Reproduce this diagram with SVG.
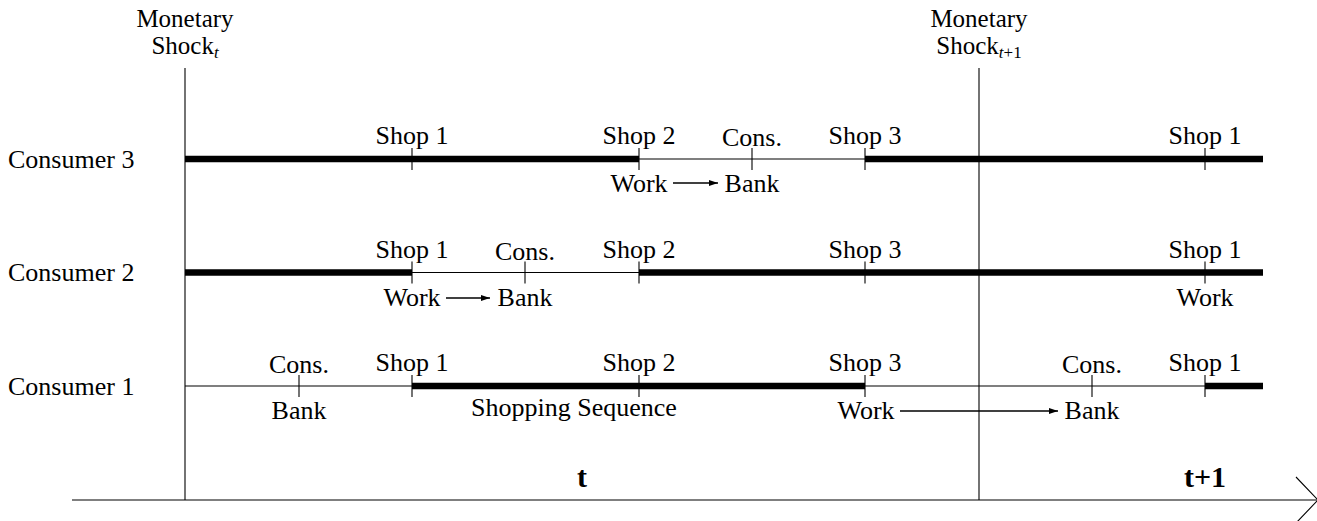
<svg xmlns="http://www.w3.org/2000/svg" width="1317" height="521" viewBox="0 0 1317 521" font-family="'Liberation Serif', 'DejaVu Serif', serif">
<style>
text{font-family:'Liberation Serif','DejaVu Serif',serif;font-size:26px;fill:#000}
.m{text-anchor:middle}
.hd{font-size:25px}
.b{font-weight:bold;font-size:30px;text-anchor:middle}
.sub{font-size:17px}
.it{font-style:italic}
.thin{stroke:#000;stroke-width:1.1;fill:none}
.thick{stroke:#000;stroke-width:6.5;fill:none}
.tick{stroke:#000;stroke-width:1.1}
.arr{stroke:#000;stroke-width:1.6;fill:none;marker-end:url(#ah)}
</style>
<defs>
<marker id="ah" markerUnits="userSpaceOnUse" markerWidth="10" markerHeight="8" refX="9" refY="3" orient="auto">
<path d="M0,0 L9,3 L0,6 Z" fill="#000"/>
</marker>
</defs>
<rect width="1317" height="521" fill="#fff"/>

<g id="axis">
<line class="thin" x1="72" y1="500" x2="1317" y2="500"/>
<polyline class="thin" points="1296,477 1318,500 1296,523"/>
<line class="thin" x1="185" y1="68" x2="185" y2="500"/>
<line class="thin" x1="979" y1="68" x2="979" y2="500"/>
<text class="m hd" x="185" y="27">Monetary</text>
<text class="m hd" x="185" y="54">Shock<tspan class="sub it" dy="4">t</tspan></text>
<text class="m hd" x="979" y="27">Monetary</text>
<text class="m hd" x="979" y="54">Shock<tspan class="sub" dy="4"><tspan class="it">t</tspan>+1</tspan></text>
<text class="b" x="582" y="487">t</text>
<text class="b" x="1205" y="487">t+1</text>
</g>

<g id="consumer3">
<text x="8" y="168">Consumer 3</text>
<line class="thick" x1="185" y1="159" x2="639" y2="159"/>
<line class="thin" x1="639" y1="159" x2="865" y2="159"/>
<line class="thick" x1="865" y1="159" x2="1263" y2="159"/>
<line class="tick" x1="412" y1="148" x2="412" y2="170"/>
<line class="tick" x1="639" y1="148" x2="639" y2="170"/>
<line class="tick" x1="752" y1="148" x2="752" y2="170"/>
<line class="tick" x1="865" y1="148" x2="865" y2="170"/>
<line class="tick" x1="1205" y1="148" x2="1205" y2="170"/>
<text class="m" x="412" y="144">Shop 1</text>
<text class="m" x="639" y="144">Shop 2</text>
<text class="m" x="752" y="146">Cons.</text>
<text class="m" x="865" y="144">Shop 3</text>
<text class="m" x="1205" y="144">Shop 1</text>
<text class="m" x="639" y="192">Work</text>
<text class="m" x="752" y="192">Bank</text>
</g>

<g id="consumer2">
<text x="8" y="281">Consumer 2</text>
<line class="thick" x1="185" y1="272.5" x2="412" y2="272.5"/>
<line class="thin" x1="412" y1="272.5" x2="639" y2="272.5"/>
<line class="thick" x1="639" y1="272.5" x2="1263" y2="272.5"/>
<line class="tick" x1="412" y1="261.5" x2="412" y2="283.5"/>
<line class="tick" x1="525" y1="261.5" x2="525" y2="283.5"/>
<line class="tick" x1="639" y1="261.5" x2="639" y2="283.5"/>
<line class="tick" x1="865" y1="261.5" x2="865" y2="283.5"/>
<line class="tick" x1="1205" y1="261.5" x2="1205" y2="283.5"/>
<text class="m" x="412" y="257.5">Shop 1</text>
<text class="m" x="525" y="259.5">Cons.</text>
<text class="m" x="639" y="257.5">Shop 2</text>
<text class="m" x="865" y="257.5">Shop 3</text>
<text class="m" x="1205" y="257.5">Shop 1</text>
<text class="m" x="412" y="305.5">Work</text>
<text class="m" x="525" y="305.5">Bank</text>
<text class="m" x="1205" y="305.5">Work</text>
</g>

<g id="consumer1">
<text x="8" y="395">Consumer 1</text>
<line class="thin" x1="185" y1="386" x2="1263" y2="386"/>
<line class="thick" x1="412" y1="386" x2="865" y2="386"/>
<line class="thick" x1="1205" y1="386" x2="1263" y2="386"/>
<line class="tick" x1="299" y1="375" x2="299" y2="397"/>
<line class="tick" x1="412" y1="375" x2="412" y2="397"/>
<line class="tick" x1="639" y1="375" x2="639" y2="397"/>
<line class="tick" x1="865" y1="375" x2="865" y2="397"/>
<line class="tick" x1="1092" y1="375" x2="1092" y2="397"/>
<line class="tick" x1="1205" y1="375" x2="1205" y2="397"/>
<text class="m" x="299" y="373">Cons.</text>
<text class="m" x="412" y="371">Shop 1</text>
<text class="m" x="639" y="371">Shop 2</text>
<text class="m" x="865" y="371">Shop 3</text>
<text class="m" x="1092" y="373">Cons.</text>
<text class="m" x="1205" y="371">Shop 1</text>
<text class="m" x="299" y="419">Bank</text>
<text class="m" x="574" y="416">Shopping Sequence</text>
<text class="m" x="866" y="419">Work</text>
<text class="m" x="1092" y="419">Bank</text>
</g>

<g id="connectors">
<line class="arr" x1="673" y1="183" x2="718" y2="183"/>
<line class="arr" x1="446" y1="298" x2="490" y2="298"/>
<line class="arr" x1="900" y1="411" x2="1058" y2="411"/>
</g>
</svg>
